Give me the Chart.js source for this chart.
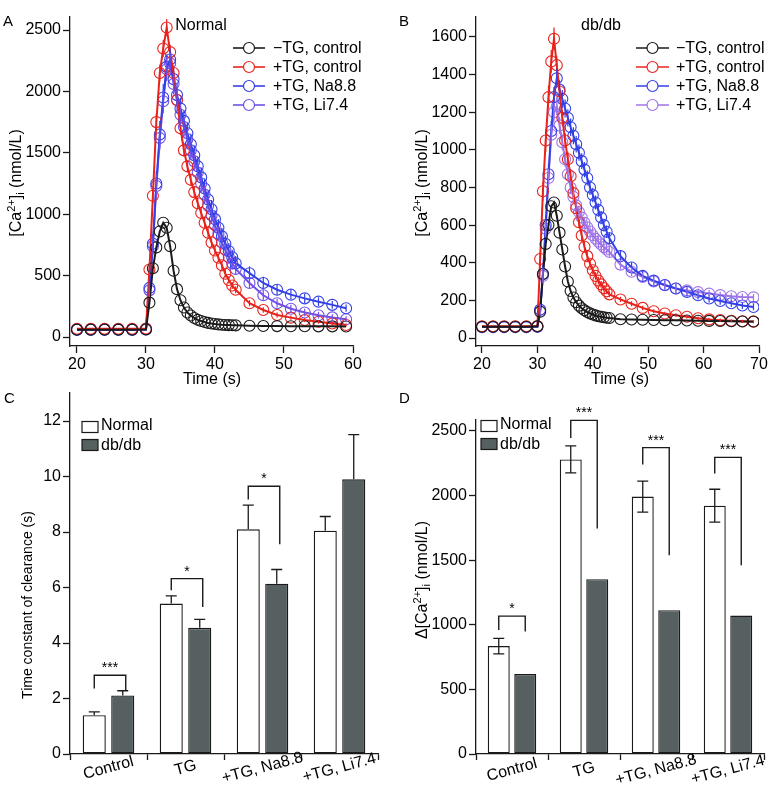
<!DOCTYPE html>
<html><head><meta charset="utf-8">
<script src="https://cdn.jsdelivr.net/npm/chart.js@4.4.0/dist/chart.umd.min.js"></script>
<style>
html,body{margin:0;padding:0;background:#fff;}
#wrap{position:relative;width:772px;height:796px;overflow:hidden;background:#fff;}
#wrap canvas{position:absolute;left:0;top:0;}
</style></head><body>
<div id="wrap">
<canvas id="cA" width="772" height="796"></canvas>
<canvas id="cB" width="772" height="796"></canvas>
<canvas id="cC" width="772" height="796"></canvas>
<canvas id="cD" width="772" height="796"></canvas>
</div>
<script>
// ---------------- DATA ----------------
const seriesLabels = ['\u2212TG, control', '+TG, control', '+TG, Na8.8', '+TG, Li7.4'];

// Panel A (Normal) — time points (s)
const timeA = [20,22,24,26,28,30,
  30.5,31,31.5,32,32.5,33,33.5,34,34.5,35,35.5,36,36.5,37,37.5,38,38.5,39,39.5,40,40.5,41,41.5,42,42.5,43,
  45,47,49,51,53,55,57,59];
const normalNegCtrl = [60,60,60,60,60,62,
  280,560,730,860,930,890,740,540,390,300,240,200,175,155,140,130,122,115,110,106,103,100,98,97,96,95,
  92,90,89,88,88,87,87,86];
const normalPosCtrl = [68,68,68,68,68,70,
  550,1150,1750,2150,2350,2520,2320,2150,1930,1700,1520,1390,1280,1180,1090,1010,930,850,770,705,645,585,515,465,420,385,
  275,220,180,158,138,124,110,98];
const normalNa = [60,60,60,60,60,62,
  400,760,1250,1650,1950,2200,2260,2100,1970,1860,1760,1660,1570,1480,1390,1300,1210,1120,1040,960,890,820,760,700,650,600,
  520,440,385,345,315,288,262,235];
const normalLi = [62,62,62,62,62,64,
  380,740,1230,1620,1920,2180,2230,2060,1930,1810,1710,1610,1520,1430,1340,1250,1160,1070,990,910,840,770,710,650,600,555,
  440,340,275,230,200,178,160,145];
// error (± nmol/L) per point, Panel A
const normalPosCtrlErr = [0,0,0,0,0,0,
  50,60,70,70,70,70,60,60,55,55,50,50,45,45,45,40,40,40,35,35,35,30,30,30,28,28,
  25,22,20,18,16,15,14,13];
const normalNaErr = [0,0,0,0,0,0,
  60,80,100,110,110,100,90,90,90,90,85,85,85,80,80,80,80,75,75,70,70,70,65,65,60,60,
  55,50,45,40,38,35,32,30];
const normalLiErr = [0,0,0,0,0,0,
  55,75,95,100,100,95,85,85,85,85,80,80,80,75,75,75,70,70,65,65,60,60,55,55,50,50,
  45,40,35,32,30,28,26,25];

// Panel B (db/db)
const timeB = [20,22,24,26,28,30,
  30.5,31,31.5,32,32.5,33,33.5,34,34.5,35,35.5,36,36.5,37,37.5,38,38.5,39,39.5,40,40.5,41,41.5,42,42.5,43,
  45,47,49,51,53,55,57,59,61,63,65,67,69];
const dbNegCtrl = [60,60,60,60,60,62,
  140,340,500,600,700,720,650,560,470,380,300,250,215,190,172,158,147,138,131,125,120,116,113,110,108,106,
  100,98,97,96,95,94,93,92,91,90,89,88,88];
const dbPosCtrl = [62,62,62,62,62,64,
  420,780,1050,1280,1470,1590,1450,1310,1170,1050,950,860,770,690,615,545,485,435,395,360,330,305,285,265,248,232,
  205,182,160,142,130,121,113,105,99,95,92,89,87];
const dbNa = [58,58,58,58,58,60,
  150,340,600,870,1100,1280,1380,1320,1270,1220,1170,1120,1075,1030,985,940,895,850,800,760,720,680,640,600,565,530,
  435,375,330,305,282,263,245,227,210,197,185,173,165];
const dbLi = [58,58,58,58,58,60,
  150,330,580,850,1080,1200,1230,1130,1040,950,870,800,750,705,670,640,612,588,566,546,528,512,497,483,470,457,
  390,352,325,300,280,263,253,244,236,228,222,218,216];
const dbPosCtrlErr = [0,0,0,0,0,0,
  40,50,60,60,60,60,50,45,45,40,40,35,35,30,30,30,28,26,24,22,20,20,18,18,16,16,
  14,13,12,11,10,10,9,9,8,8,8,8,8];
const dbNaErr = [0,0,0,0,0,0,
  30,40,50,55,55,55,50,50,48,48,46,46,45,44,43,42,41,40,40,38,37,36,35,34,33,32,
  30,28,27,26,25,24,23,22,21,20,20,19,18];
const dbLiErr = [0,0,0,0,0,0,
  30,40,45,50,50,50,45,45,42,40,38,36,35,34,33,32,31,30,30,29,28,27,26,26,25,25,
  24,23,22,21,20,20,20,19,19,18,18,18,18];

const ticksAx = [20,30,40,50,60];
const ticksAy = [0,500,1000,1500,2000,2500];
const ticksBx = [20,30,40,50,60,70];
const ticksBy = [0,200,400,600,800,1000,1200,1400,1600];

// Panel C — time constant of clearance (s)
const categories = ['Control', 'TG', '+TG, Na8.8', '+TG, Li7.4'];
const tauNormal = [1.40, 5.42, 8.10, 8.05];
const tauNormalErr = [0.12, 0.28, 0.87, 0.51];
const tauDb = [2.11, 4.55, 6.14, 9.90];
const tauDbErr = [0.17, 0.30, 0.51, 1.61];
const ticksCy = [0,2,4,6,8,10,12];
const bracketsC = [[2.36,2.84,2.28],[5.9,6.32,5.3],[9.17,9.65,7.56],null]; // [left leg end, top, right leg end]
const starsC = ['***','*','*',''];

// Panel D — Δ[Ca2+]i (nmol/L)
const ampNormal = [835, 2280, 1992, 1922];
const ampNormalErr = [60, 105, 120, 127];
const ampDb = [619, 1353, 1113, 1072];
const ticksDy = [0,500,1000,1500,2000,2500];
const bracketsD = [[959,1067,948],[2446,2582,1745],[2240,2371,1539],[2170,2296,1461]];
const starsD = ['*','***','***','***'];

// ---------------- STYLE ----------------
const FONT = '"Liberation Sans", Arial, Helvetica, sans-serif';
Chart.defaults.font.family = FONT;
Chart.defaults.color = '#000';
const AX = '#1a1a1a';
const colA = ['#1a1a1a', '#e8231c', '#3340e6', '#7150e6'];
const colB = ['#1a1a1a', '#e8231c', '#3340e6', '#9f74e8'];
const DBFILL = '#566060';

function scaleCommon(ticks, sizeKey, size) {
  return {
    afterFit: s => { s[sizeKey] = size; },
    afterBuildTicks: s => { s.ticks = ticks.map(v => ({ value: v })); },
    grid: { display: true, drawOnChartArea: false, drawTicks: true, tickLength: 7, tickColor: AX, tickWidth: 1.3 },
    border: { display: true, color: AX, width: 1.3 },
    ticks: { color: '#000', font: { size: 16 }, padding: 2, maxRotation: 0, minRotation: 0, autoSkip: false,
             callback: v => String(v) }
  };
}

function richText(ctx, parts, x, y, rot) {
  ctx.save();
  ctx.translate(x, y); ctx.rotate(rot);
  let w = 0;
  parts.forEach(p => { ctx.font = p[1] + 'px ' + FONT; w += ctx.measureText(p[0]).width; });
  let cx = -w / 2;
  ctx.textAlign = 'left'; ctx.textBaseline = 'alphabetic'; ctx.fillStyle = '#000';
  parts.forEach(p => { ctx.font = p[1] + 'px ' + FONT; ctx.fillText(p[0], cx, p[2]); cx += ctx.measureText(p[0]).width; });
  ctx.restore();
}
function text(ctx, s, x, y, size, align, base) {
  ctx.save(); ctx.font = size + 'px ' + FONT; ctx.fillStyle = '#000';
  ctx.textAlign = align || 'center'; ctx.textBaseline = base || 'middle';
  ctx.fillText(s, x, y); ctx.restore();
}
function lineLegend(chart, x0, x1, tx, ys) {
  const ctx = chart.ctx;
  chart.data.datasets.forEach((ds, i) => {
    const y = ys[i];
    ctx.save();
    ctx.strokeStyle = ds.borderColor; ctx.lineWidth = 1.6;
    ctx.beginPath(); ctx.moveTo(x0, y); ctx.lineTo(x1, y); ctx.stroke();
    ctx.lineWidth = 1.2; ctx.fillStyle = '#fff';
    ctx.beginPath(); ctx.arc((x0 + x1) / 2, y, 5.5, 0, Math.PI * 2); ctx.fill(); ctx.stroke();
    ctx.restore();
    text(ctx, ds.label, tx, y + 1, 16, 'left', 'middle');
  });
}
// vertical error bars for time-series points
const seriesErrPlugin = {
  id: 'seriesErr',
  afterDatasetsDraw(chart) {
    const ctx = chart.ctx, ys = chart.scales.y;
    chart.data.datasets.forEach((ds, i) => {
      if (!ds.errs) return;
      const meta = chart.getDatasetMeta(i);
      ctx.save(); ctx.strokeStyle = ds.borderColor; ctx.lineWidth = 1.2;
      ctx.beginPath();
      meta.data.forEach((pt, k) => {
        const e = ds.errs[k]; if (!e) return;
        const v = ds.data[k].y;
        ctx.moveTo(pt.x, ys.getPixelForValue(v + e));
        ctx.lineTo(pt.x, ys.getPixelForValue(v - e));
      });
      ctx.stroke(); ctx.restore();
    });
  }
};

function makeLine(id, times, series, errs, colors, cfg, decor) {
  const datasets = series.map((vals, i) => ({
    label: seriesLabels[i],
    data: times.map((t, k) => ({ x: t, y: vals[k] })),
    errs: errs[i],
    borderColor: colors[i], backgroundColor: 'rgba(0,0,0,0)',
    pointBorderColor: colors[i], pointBackgroundColor: 'rgba(0,0,0,0)',
    pointRadius: 5.5, pointBorderWidth: 1.1, borderWidth: 2, showLine: true, tension: 0
  }));
  const xs = scaleCommon(cfg.xticks, 'height', 40);
  const ys = scaleCommon(cfg.yticks, 'width', 60);
  return new Chart(document.getElementById(id), {
    type: 'scatter',
    data: { datasets },
    options: {
      responsive: false, animation: false, events: [],
      layout: { padding: { left: cfg.L - 60, top: cfg.T, right: 772 - cfg.R, bottom: 796 - cfg.B - 40 } },
      plugins: { legend: { display: false }, tooltip: { enabled: false } },
      scales: {
        x: Object.assign(xs, { type: 'linear', min: cfg.xmin, max: cfg.xmax }),
        y: Object.assign(ys, { type: 'linear', min: cfg.ymin, max: cfg.ymax })
      }
    },
    plugins: [seriesErrPlugin, { id: 'decor' + id, afterDraw: decor }]
  });
}

function makeBar(id, normal, db, cfg, decor) {
  const xs = {
    afterFit: s => { s.height = 40; },
    grid: { display: true, offset: true, drawOnChartArea: false, drawTicks: true, tickLength: 6, tickColor: AX, tickWidth: 1.3 },
    border: { display: true, color: AX, width: 1.3 },
    ticks: { display: false }
  };
  const ys = scaleCommon(cfg.yticks, 'width', 60);
  return new Chart(document.getElementById(id), {
    type: 'bar',
    data: { labels: categories, datasets: [
      { label: 'Normal', data: normal, backgroundColor: '#ffffff', borderColor: AX, borderWidth: 1.4, borderSkipped: false,
        categoryPercentage: cfg.cat, barPercentage: cfg.bar },
      { label: 'db/db', data: db, backgroundColor: DBFILL, borderColor: AX, borderWidth: 1.4, borderSkipped: false,
        categoryPercentage: cfg.cat, barPercentage: cfg.bar }
    ]},
    options: {
      responsive: false, animation: false, events: [],
      layout: { padding: { left: cfg.L - 60, top: cfg.T, right: 772 - cfg.R, bottom: 796 - cfg.B - 40 } },
      plugins: { legend: { display: false }, tooltip: { enabled: false } },
      scales: { x: xs, y: Object.assign(ys, { min: 0, max: cfg.ymax }) }
    },
    plugins: [{ id: 'decor' + id, afterDraw: decor }]
  });
}

function errBars(chart, dsi, vals, errs, both) {
  const ctx = chart.ctx, y = chart.scales.y, meta = chart.getDatasetMeta(dsi);
  ctx.save(); ctx.strokeStyle = AX; ctx.lineWidth = 1.3;
  meta.data.forEach((bar, i) => {
    const x = bar.x;
    const top = y.getPixelForValue(vals[i] + errs[i]);
    const bot = y.getPixelForValue(both ? vals[i] - errs[i] : vals[i]);
    ctx.beginPath();
    ctx.moveTo(x, top); ctx.lineTo(x, bot);
    ctx.moveTo(x - 5.5, top); ctx.lineTo(x + 5.5, top);
    if (both) { ctx.moveTo(x - 5.5, bot); ctx.lineTo(x + 5.5, bot); }
    ctx.stroke();
  });
  ctx.restore();
}
function brackets(chart, br, stars, shift) {
  const ctx = chart.ctx, y = chart.scales.y;
  const m0 = chart.getDatasetMeta(0), m1 = chart.getDatasetMeta(1);
  br.forEach((b, i) => {
    if (!b) return;
    const x0 = m0.data[i].x, x1 = m1.data[i].x + shift;
    const yl = y.getPixelForValue(b[0]), yt = y.getPixelForValue(b[1]), yr = y.getPixelForValue(b[2]);
    ctx.save(); ctx.strokeStyle = AX; ctx.lineWidth = 1.4;
    ctx.beginPath(); ctx.moveTo(x0, yl); ctx.lineTo(x0, yt); ctx.lineTo(x1, yt); ctx.lineTo(x1, yr); ctx.stroke();
    ctx.restore();
    text(ctx, stars[i], (x0 + x1) / 2, yt - 3, 14, 'center', 'alphabetic');
  });
}
function barLegend(ctx, x, y1, y2) {
  ctx.save(); ctx.strokeStyle = AX; ctx.lineWidth = 1.2;
  ctx.fillStyle = '#fff'; ctx.fillRect(x, y1 - 5.5, 16, 11); ctx.strokeRect(x, y1 - 5.5, 16, 11);
  ctx.fillStyle = DBFILL; ctx.fillRect(x, y2 - 5.5, 16, 11); ctx.strokeRect(x, y2 - 5.5, 16, 11);
  ctx.restore();
  text(ctx, 'Normal', x + 19, y1 - 1, 16, 'left', 'middle');
  text(ctx, 'db/db', x + 19, y2 + 1, 16, 'left', 'middle');
}
function catLabels(chart, yc) {
  const ctx = chart.ctx, xs = chart.scales.x;
  categories.forEach((c, i) => {
    const x = xs.getPixelForValue(i);
    ctx.save(); ctx.translate(x, yc); ctx.rotate(-15 * Math.PI / 180);
    ctx.font = '16px ' + FONT; ctx.fillStyle = '#000'; ctx.textAlign = 'center'; ctx.textBaseline = 'middle';
    ctx.fillText(c, 0, 0); ctx.restore();
  });
}

const caTitle = [['[Ca', 16, 0], ['2+', 11, -6], [']', 16, 0], ['i', 11, 3], [' (nmol/L)', 16, 0]];

// ---------------- CHARTS ----------------
makeLine('cA', timeA, [normalNegCtrl, normalPosCtrl, normalNa, normalLi],
  [null, normalPosCtrlErr, normalNaErr, normalLiErr], colA,
  { L: 70, R: 353, T: 17, B: 346, xmin: 18.99, xmax: 60, ymin: -73, ymax: 2606, xticks: ticksAx, yticks: ticksAy },
  chart => {
    const ctx = chart.ctx;
    text(ctx, 'A', 3, 26, 15, 'left', 'alphabetic');
    text(ctx, 'Normal', 201, 26, 16);
    text(ctx, 'Time (s)', 212, 380, 16);
    richText(ctx, caTitle, 21, 183, -Math.PI / 2);
    lineLegend(chart, 233, 265, 273, [48, 67, 86, 105]);
  });

makeLine('cB', timeB, [dbNegCtrl, dbPosCtrl, dbNa, dbLi],
  [null, dbPosCtrlErr, dbNaErr, dbLiErr], colB,
  { L: 476, R: 759, T: 17, B: 346, xmin: 18.92, xmax: 70, ymin: -42.5, ymax: 1706, xticks: ticksBx, yticks: ticksBy },
  chart => {
    const ctx = chart.ctx;
    text(ctx, 'B', 399, 26, 15, 'left', 'alphabetic');
    text(ctx, 'db/db', 601, 26, 16);
    text(ctx, 'Time (s)', 620, 380, 16);
    richText(ctx, caTitle, 427, 183, -Math.PI / 2);
    lineLegend(chart, 636, 669, 676, [48, 67, 86, 105]);
  });

makeBar('cC', tauNormal, tauDb,
  { L: 70, R: 378, T: 393, B: 754, ymax: 13.01, yticks: ticksCy, cat: 0.74, bar: 0.81 },
  chart => {
    const ctx = chart.ctx;
    errBars(chart, 0, tauNormal, tauNormalErr, false);
    errBars(chart, 1, tauDb, tauDbErr, false);
    brackets(chart, bracketsC, starsC, 3);
    text(ctx, 'C', 4, 403, 15, 'left', 'alphabetic');
    barLegend(ctx, 82, 427, 445);
    richText(ctx, [['Time constant of clearance (s)', 14, 0]], 32, 605, -Math.PI / 2);
    catLabels(chart, 768);
  });

makeBar('cD', ampNormal, ampDb,
  { L: 476, R: 764, T: 420, B: 754, ymax: 2585, yticks: ticksDy, cat: 0.736, bar: 0.83 },
  chart => {
    const ctx = chart.ctx;
    errBars(chart, 0, ampNormal, ampNormalErr, true);
    brackets(chart, bracketsD, starsD, 0);
    text(ctx, 'D', 399, 403, 15, 'left', 'alphabetic');
    barLegend(ctx, 481, 426, 444);
    richText(ctx, [['\u0394[Ca', 16, 0], ['2+', 11, -6], [']', 16, 0], ['i', 11, 3], [' (nmol/L)', 16, 0]], 427, 580, -Math.PI / 2);
    catLabels(chart, 770);
  });
</script>
</body></html>
